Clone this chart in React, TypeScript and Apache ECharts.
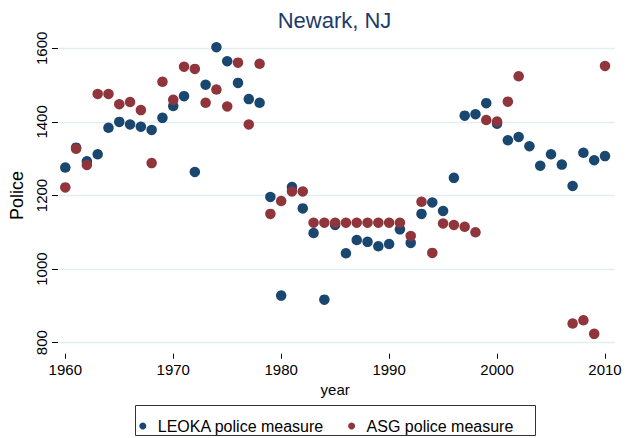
import React, { useEffect, useRef } from "react";
import * as echarts from "echarts";

const years: number[] = [
  1960, 1961, 1962, 1963, 1964, 1965, 1966, 1967, 1968, 1969,
  1970, 1971, 1972, 1973, 1974, 1975, 1976, 1977, 1978, 1979,
  1980, 1981, 1982, 1983, 1984, 1985, 1986, 1987, 1988, 1989,
  1990, 1991, 1992, 1993, 1994, 1995, 1996, 1997, 1998, 1999,
  2000, 2001, 2002, 2003, 2004, 2005, 2006, 2007, 2008, 2009, 2010,
];

const leoka: (number | null)[] = [
  1276, 1330, 1293, 1312, 1384, 1400, 1393, 1387, 1378, 1411,
  1443, 1470, 1264, 1501, 1603, 1565, 1506, 1462, 1452, 1196,
  928, 1223, 1165, 1098, 917, 1120, 1043, 1079, 1074, 1062,
  1068, 1108, 1071, 1150, 1181, 1158, 1248, 1417, 1421, 1451,
  1395, 1350, 1359, 1334, 1281, 1312, 1284, 1226, 1316, 1296, 1307,
];

const asg: (number | null)[] = [
  1222, 1327, 1283, 1476, 1476, 1448, 1454, 1432, 1288, 1509,
  1460, 1550, 1544, 1452, 1488, 1442, 1561, 1393, 1558, 1150,
  1185, 1211, 1211, 1126, 1126, 1126, 1126, 1126, 1126, 1126,
  1126, 1126, 1090, 1183, 1044, 1124, 1120, 1115, 1100, 1405,
  1401, 1455, 1524, null, null, null, null, 852, 861, 824, 1552,
];

const seriesNames = ["LEOKA police measure", "ASG police measure"];
const titleText = "Newark, NJ";
const xName = "year";
const yName = "Police";

const FONT = "'Liberation Sans', Arial, Helvetica, sans-serif";
const BLUE = "#1a476f";
const RED = "#90353b";

function pairs(vals: (number | null)[]) {
  const out: [number, number][] = [];
  vals.forEach((v, i) => {
    if (v !== null) out.push([years[i], v]);
  });
  return out;
}

const plain = (v: number) => String(v);

export default function App() {
  const ref = useRef<HTMLDivElement>(null);
  useEffect(() => {
    if (!ref.current) return;
    const chart = echarts.init(ref.current, undefined, { renderer: "svg" });
    const top = 48.3;
    const bottom = 438 - 342.7;
    chart.setOption({
      animation: false,
      backgroundColor: "#ffffff",
      textStyle: { fontFamily: FONT },
      grid: [
        { left: 55, right: 11, top, bottom },
        { left: 65.3, right: 21, top, bottom },
      ],
      xAxis: [
        { gridIndex: 0, type: "value", min: 0, max: 1, show: false },
        {
          gridIndex: 1,
          type: "value",
          min: 1960,
          max: 2010,
          interval: 10,
          offset: 11,
          name: xName,
          nameLocation: "middle",
          nameGap: 27,
          nameTextStyle: { fontSize: 15, color: "#000", fontFamily: FONT },
          axisLine: { show: false },
          axisTick: { show: true, length: 5, lineStyle: { color: "#000", width: 1 } },
          axisLabel: { fontSize: 15, color: "#000", margin: 8, fontFamily: FONT, formatter: plain },
          splitLine: { show: false },
        },
      ],
      yAxis: [
        {
          gridIndex: 0,
          type: "value",
          min: 800,
          max: 1600,
          interval: 200,
          name: yName,
          nameLocation: "middle",
          nameGap: 27,
          nameTextStyle: { fontSize: 18, color: "#000", fontFamily: FONT },
          axisLine: { show: false },
          axisTick: { show: true, length: 6, lineStyle: { color: "#000", width: 1 } },
          axisLabel: { rotate: 90, fontSize: 15, color: "#000", margin: 9, fontFamily: FONT, formatter: plain },
          splitLine: { show: true, lineStyle: { color: "#e4edf0", width: 1.3 } },
        },
        {
          gridIndex: 1,
          type: "value",
          min: 800,
          max: 1600,
          show: false,
          splitLine: { show: false },
        },
      ],
      legend: {
        left: 134.3,
        top: 413,
        itemWidth: 20,
        itemHeight: 7,
        itemGap: 24,
        textStyle: { fontSize: 16, color: "#000", fontFamily: FONT },
        data: [
          { name: seriesNames[0], icon: "circle" },
          { name: seriesNames[1], icon: "circle" },
        ],
      },
      graphic: [
        {
          type: "text",
          x: 334.5,
          y: 20.5,
          style: {
            text: titleText,
            fontSize: 22,
            fontFamily: FONT,
            fill: "#1e3a6b",
            textAlign: "center",
            textVerticalAlign: "middle",
          },
        },
        {
          type: "rect",
          shape: { x: 135.5, y: 405.5, width: 400, height: 30 },
          style: { fill: "none", stroke: "#333", lineWidth: 1 },
        },
      ],
      series: [
        {
          name: seriesNames[0],
          type: "scatter",
          xAxisIndex: 1,
          yAxisIndex: 1,
          symbolSize: 10.5,
          clip: false,
          itemStyle: { color: BLUE, opacity: 1 },
          data: pairs(leoka),
        },
        {
          name: seriesNames[1],
          type: "scatter",
          xAxisIndex: 1,
          yAxisIndex: 1,
          symbolSize: 10.5,
          clip: false,
          itemStyle: { color: RED, opacity: 1 },
          data: pairs(asg),
        },
      ],
    });
    return () => chart.dispose();
  }, []);
  return (
    <div
      ref={ref}
      style={{ position: "fixed", left: 0, top: 0, width: 626, height: 438 }}
    />
  );
}
